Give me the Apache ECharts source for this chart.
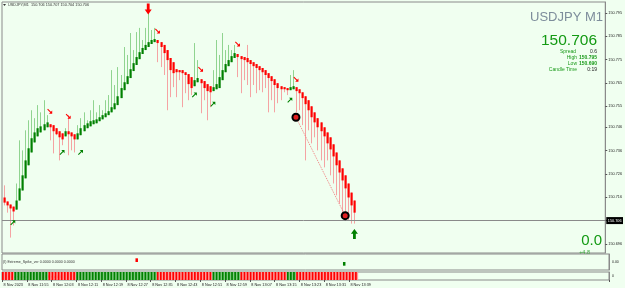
<!DOCTYPE html>
<html><head><meta charset="utf-8">
<script src="https://cdn.jsdelivr.net/npm/echarts@6/dist/echarts.min.js"></script>
<style>html,body{margin:0;padding:0;background:#f0fff0;}#c{width:625px;height:288px;}</style>
</head><body><div id="c"></div>
<script>
// ---- data ----
const opens = [
150.7159,150.7142,150.7129,150.7120,150.7107,150.7146,150.7189,150.7241,150.7297,150.7352,
150.7395,150.7421,150.7438,150.7447,150.7460,150.7473,150.7469,150.7456,150.7443,150.7434,
150.7421,150.7443,150.7438,150.7430,150.7408,150.7426,150.7443,150.7456,150.7464,150.7473,
150.7477,150.7486,150.7494,150.7503,150.7512,150.7524,150.7537,150.7555,150.7585,150.7619,
150.7645,150.7671,150.7701,150.7727,150.7752,150.7774,150.7791,150.7804,150.7817,150.7825,
150.7834,150.7825,150.7813,150.7791,150.7757,150.7739,150.7709,150.7705,150.7705,150.7696,
150.7688,150.7675,150.7636,150.7653,150.7666,150.7658,150.7645,150.7636,150.7615,150.7623,
150.7628,150.7662,150.7696,150.7722,150.7739,150.7757,150.7774,150.7765,150.7761,150.7757,
150.7748,150.7739,150.7731,150.7722,150.7714,150.7705,150.7692,150.7679,150.7666,150.7649,
150.7636,150.7632,150.7628,150.7619,150.7623,150.7632,150.7623,150.7610,150.7593,150.7576,
150.7550,150.7524,150.7499,150.7481,150.7460,150.7438,150.7417,150.7387,150.7352,150.7318,
150.7284,150.7254,150.7219,150.7180,150.7146];
const closes = [
150.7137,150.7125,150.7112,150.7099,150.7146,150.7198,150.7254,150.7318,150.7370,150.7413,
150.7438,150.7456,150.7464,150.7473,150.7481,150.7460,150.7443,150.7430,150.7417,150.7408,
150.7443,150.7430,150.7421,150.7408,150.7434,150.7456,150.7469,150.7477,150.7486,150.7490,
150.7494,150.7503,150.7512,150.7520,150.7529,150.7546,150.7563,150.7593,150.7628,150.7653,
150.7679,150.7709,150.7735,150.7761,150.7782,150.7800,150.7813,150.7825,150.7834,150.7838,
150.7821,150.7804,150.7778,150.7748,150.7705,150.7692,150.7696,150.7696,150.7692,150.7684,
150.7645,150.7628,150.7662,150.7671,150.7649,150.7628,150.7615,150.7610,150.7632,150.7645,
150.7675,150.7705,150.7731,150.7748,150.7765,150.7778,150.7761,150.7752,150.7748,150.7739,
150.7731,150.7722,150.7714,150.7705,150.7696,150.7684,150.7671,150.7658,150.7641,150.7628,
150.7623,150.7623,150.7619,150.7632,150.7636,150.7615,150.7606,150.7585,150.7559,150.7533,
150.7503,150.7481,150.7460,150.7443,150.7421,150.7391,150.7365,150.7335,150.7297,150.7266,
150.7232,150.7198,150.7159,150.7125,150.7094];
const lows = [
150.7125,150.7094,150.6987,150.7039,150.7107,150.7146,150.7189,150.7241,150.7297,150.7352,
150.7395,150.7421,150.7438,150.7447,150.7460,150.7404,150.7348,150.7426,150.7318,150.7383,
150.7421,150.7340,150.7361,150.7352,150.7408,150.7426,150.7443,150.7456,150.7464,150.7473,
150.7477,150.7486,150.7494,150.7503,150.7512,150.7524,150.7537,150.7555,150.7585,150.7619,
150.7645,150.7671,150.7701,150.7727,150.7752,150.7774,150.7791,150.7804,150.7817,150.7825,
150.7739,150.7718,150.7684,150.7533,150.7589,150.7632,150.7589,150.7662,150.7546,150.7606,
150.7576,150.7598,150.7636,150.7653,150.7520,150.7576,150.7490,150.7546,150.7615,150.7623,
150.7628,150.7662,150.7696,150.7722,150.7739,150.7757,150.7675,150.7606,150.7662,150.7641,
150.7589,150.7641,150.7606,150.7619,150.7610,150.7628,150.7524,150.7576,150.7524,150.7563,
150.7576,150.7610,150.7598,150.7619,150.7623,150.7524,150.7533,150.7469,150.7318,150.7447,
150.7391,150.7417,150.7361,150.7318,150.7288,150.7318,150.7254,150.7219,150.7168,150.7133,
150.7090,150.7073,150.7060,150.7047,150.7047];
const highs = [
150.7211,150.7142,150.7129,150.7120,150.7219,150.7404,150.7361,150.7447,150.7490,150.7533,
150.7499,150.7555,150.7524,150.7576,150.7512,150.7473,150.7469,150.7456,150.7443,150.7434,
150.7456,150.7512,150.7438,150.7430,150.7469,150.7499,150.7524,150.7490,150.7533,150.7576,
150.7524,150.7555,150.7533,150.7576,150.7598,150.7705,150.7641,150.7718,150.7684,150.7804,
150.7770,150.7864,150.7791,150.7868,150.7886,150.7834,150.7886,150.7954,150.7877,150.7886,
150.7834,150.7825,150.7813,150.7791,150.7757,150.7739,150.7709,150.7705,150.7705,150.7696,
150.7688,150.7675,150.7821,150.7748,150.7666,150.7658,150.7645,150.7636,150.7705,150.7834,
150.7770,150.7864,150.7791,150.7813,150.7791,150.7813,150.7774,150.7765,150.7761,150.7813,
150.7748,150.7739,150.7731,150.7722,150.7714,150.7705,150.7692,150.7679,150.7666,150.7649,
150.7636,150.7632,150.7628,150.7684,150.7705,150.7632,150.7623,150.7610,150.7593,150.7576,
150.7550,150.7524,150.7499,150.7481,150.7460,150.7438,150.7417,150.7387,150.7352,150.7318,
150.7284,150.7254,150.7219,150.7180,150.7146];
// histogram trend direction per candle (1 up, -1 down)
const histDir = [
-1,-1,-1,-1,1,1,1,1,1,1, 1,1,1,1,1,-1,-1,-1,-1,-1, -1,-1,-1,-1,1,1,1,1,1,1,
1,1,1,1,1,1,1,1,1,1, 1,1,1,1,1,1,1,1,1,1, -1,-1,-1,-1,-1,-1,-1,-1,-1,-1,
-1,-1,-1,-1,-1,-1,-1,-1,1,1, 1,1,1,1,1,1,1,-1,-1,-1, -1,-1,-1,-1,-1,-1,-1,-1,-1,-1,
-1,-1,1,1,1,-1,-1,-1,-1,-1, -1,-1,-1,-1,-1,-1,-1,-1,-1,-1, -1,-1,-1,-1,-1];
const spikeIdx = [43, 110];
const spikeVal = [1.2, -1.2];
const sellArrowsSmall = [[15,150.7529],[21,150.7507],[50,150.7873],[64,150.7709],[76,150.7817],[95,150.7666]];
const buyArrowsSmall = [[3,150.7051],[19,150.7352],[25,150.7352],[62,150.7598],[68,150.7559],[93,150.7576]];
const sellArrowBig = [[47,150.7967]];
const buyArrowBig = [[114,150.7002]];
const circles = [[95,150.7503],[111,150.7081]];
const currentPrice = 150.706;
const yTicks = [150.696,150.706,150.716,150.726,150.736,150.746,150.755,150.765,150.775,150.785,150.795];
const timeLabels = ['8 Nov 2023','8 Nov 11:55','8 Nov 12:03','8 Nov 12:11','8 Nov 12:19','8 Nov 12:27','8 Nov 12:35','8 Nov 12:43','8 Nov 12:51','8 Nov 12:59','8 Nov 13:07','8 Nov 13:15','8 Nov 13:23','8 Nov 13:31','8 Nov 13:39'];
const labelEvery = 8;
const slotCount = 196;

// ---- chart ----
const FONT = 'Liberation Sans';
const GREEN = '#008000', RED = '#ff0000', LGREEN = '#90d490', LRED = '#f5a3a3';
const cats = Array.from({length: slotCount}, (_, i) => i);
const candleData = opens.map((o, i) => [i, o, closes[i], lows[i], highs[i]]);

function renderCandle(params, api) {
  const i = api.value(0), o = api.value(1), c = api.value(2), l = api.value(3), h = api.value(4);
  const up = c >= o;
  const pO = api.coord([i, o]), pC = api.coord([i, c]), pL = api.coord([i, l]), pH = api.coord([i, h]);
  const x = Math.round(pO[0]);
  const top = Math.min(pO[1], pC[1]);
  const hgt = Math.max(1, Math.abs(pO[1] - pC[1]));
  return {type: 'group', children: [
    {type: 'line', shape: {x1: x + 0.5, y1: pH[1], x2: x + 0.5, y2: pL[1]}, style: {stroke: up ? LGREEN : LRED, lineWidth: 1}},
    {type: 'rect', shape: {x: x - 0.5, y: top, width: 2.2, height: hgt}, style: {fill: up ? GREEN : RED}}
  ]};
}
function renderHist(params, api) {
  const i = api.value(0), d = api.value(1);
  const p0 = api.coord([i, 0]), p1 = api.coord([i, 1]);
  const w = api.size([1, 0])[0];
  const x = p0[0] - w / 2;
  return {type: 'group', children: [
    {type: 'rect', shape: {x: x, y: p1[1], width: w, height: p0[1] - p1[1]}, style: {fill: d > 0 ? '#7fc97f' : '#ff9a9a'}},
    {type: 'rect', shape: {x: x, y: p1[1], width: w * 0.55, height: p0[1] - p1[1]}, style: {fill: d > 0 ? GREEN : RED}}
  ]};
}
const downArrow = 'path://M3,0 L7,0 L7,6 L10,6 L5,11 L0,6 L3,6 Z';
const upArrow = 'path://M3,11 L7,11 L7,5 L10,5 L5,0 L0,5 L3,5 Z';
const seArrow = 'path://M0,1.5 L1.5,0 L7.5,6 L10,3.5 L10,10 L3.5,10 L6,7.5 Z';
const neArrow = 'path://M0,8.5 L1.5,10 L7.5,4 L10,6.5 L10,0 L3.5,0 L6,2.5 Z';

const chart = echarts.init(document.getElementById('c'), null, {renderer: 'canvas'});
const axisLbl = {fontSize: 3.8, color: '#222', fontFamily: FONT};
const tickShow = (idx) => idx % labelEvery === 0 && idx / labelEvery < timeLabels.length;
chart.setOption({
  backgroundColor: '#f0fff0',
  animation: false,
  grid: [
    {left: 2, top: 2, width: 607, height: 251, show: true, borderColor: '#8a8a8a', borderWidth: 1, backgroundColor: '#f0fff0'},
    {left: 2, top: 254, width: 607, height: 16, show: true, borderColor: '#8a8a8a', borderWidth: 1, backgroundColor: '#f0fff0'},
    {left: 2, top: 272, width: 607, height: 8, show: true, borderColor: '#8a8a8a', borderWidth: 1, backgroundColor: '#f0fff0'}
  ],
  xAxis: [
    {type: 'category', gridIndex: 0, data: cats, boundaryGap: true, axisLine: {show: false}, axisTick: {show: false}, axisLabel: {show: false}, splitLine: {show: false}},
    {type: 'category', gridIndex: 1, data: cats, boundaryGap: true, axisLine: {show: false}, axisTick: {show: false}, axisLabel: {show: false}},
    {type: 'category', gridIndex: 2, data: cats, boundaryGap: true, axisLine: {show: false},
     axisTick: {show: true, length: 2, lineStyle: {color: '#555'}, interval: tickShow},
     axisLabel: {show: true, ...axisLbl, align: 'left', margin: 2.5, interval: tickShow, hideOverlap: false,
       formatter: (v, idx) => timeLabels[idx / labelEvery] || ''}}
  ],
  yAxis: [
    {type: 'value', gridIndex: 0, position: 'right', min: 150.6921, max: 150.7997, scale: true,
     axisLine: {show: true, lineStyle: {color: '#8a8a8a'}}, splitLine: {show: false},
     axisTick: {show: true, length: 2, customValues: yTicks, lineStyle: {color: '#555'}},
     axisLabel: {...axisLbl, margin: 3, customValues: yTicks, formatter: (v) => v.toFixed(3)}},
    {type: 'value', gridIndex: 1, position: 'right', min: -2.6, max: 2.6,
     axisLine: {show: true, lineStyle: {color: '#8a8a8a'}}, splitLine: {show: false},
     axisTick: {show: false}, axisLabel: {...axisLbl, fontSize: 3.5, margin: 3, customValues: [-1.2, 0, 1.2], formatter: (v) => v === 0 ? '0.00' : String(v)}},
    {type: 'value', gridIndex: 2, position: 'right', min: 0, max: 1,
     axisLine: {show: true, lineStyle: {color: '#8a8a8a'}}, splitLine: {show: false},
     axisTick: {show: false}, axisLabel: {...axisLbl, fontSize: 3.5, margin: 3, customValues: [0.5], formatter: () => '0'}}
  ],
  series: [
    {type: 'custom', xAxisIndex: 0, yAxisIndex: 0, renderItem: renderCandle, data: candleData, encode: {x: 0, y: [1, 2, 3, 4]}, z: 3},
    {type: 'line', xAxisIndex: 0, yAxisIndex: 0, data: circles, symbol: 'none', lineStyle: {color: '#f08080', type: 'dotted', width: 1}, z: 4,
     markLine: {silent: true, symbol: 'none', animation: false, precision: 5, lineStyle: {color: '#8a8a8a', type: 'solid', width: 1},
       label: {position: 'end', formatter: () => currentPrice.toFixed(3), backgroundColor: '#000', color: '#fff', fontSize: 3.8, fontFamily: FONT, padding: [1.5, 1.5], distance: 1},
       data: [{yAxis: currentPrice}]}},
    {type: 'scatter', xAxisIndex: 0, yAxisIndex: 0, data: circles, symbol: 'circle', symbolSize: 7, itemStyle: {color: '#e02020', borderColor: '#000', borderWidth: 2, opacity: 1}, z: 6},
    {type: 'scatter', xAxisIndex: 0, yAxisIndex: 0, data: sellArrowsSmall, symbol: seArrow, symbolSize: 5, itemStyle: {color: RED, opacity: 1}, z: 5},
    {type: 'scatter', xAxisIndex: 0, yAxisIndex: 0, data: buyArrowsSmall, symbol: neArrow, symbolSize: 5, itemStyle: {color: GREEN, opacity: 1}, z: 5},
    {type: 'scatter', xAxisIndex: 0, yAxisIndex: 0, data: sellArrowBig, symbol: downArrow, symbolSize: [7, 11], itemStyle: {color: RED, opacity: 1}, z: 5},
    {type: 'scatter', xAxisIndex: 0, yAxisIndex: 0, data: buyArrowBig, symbol: upArrow, symbolSize: [7, 10], itemStyle: {color: GREEN, opacity: 1}, z: 5},
    {type: 'bar', xAxisIndex: 1, yAxisIndex: 1, barWidth: 2.5,
     data: cats.map((i) => { const k = spikeIdx.indexOf(i); return k < 0 ? null : {value: spikeVal[k], itemStyle: {color: spikeVal[k] > 0 ? RED : GREEN}}; })},
    {type: 'custom', xAxisIndex: 2, yAxisIndex: 2, renderItem: renderHist, data: histDir.map((d, i) => [i, d]), encode: {x: 0, y: 1}}
  ],
  graphic: [
    {type: 'text', x: 8, y: 3, style: {text: 'USDJPY,M1  150.706 150.707 150.704 150.706', font: '3.8px ' + FONT, fill: '#333'}},
    {type: 'polygon', shape: {points: [[3, 4], [6, 4], [4.5, 6]]}, style: {fill: '#333'}},
    {type: 'text', x: 603, y: 11, style: {text: 'USDJPY M1', font: '13px ' + FONT, fill: '#7d8d9b', textAlign: 'right'}},
    {type: 'text', x: 597, y: 33, style: {text: '150.706', font: '15.5px ' + FONT, fill: '#139a13', textAlign: 'right'}},
    {type: 'text', x: 576, y: 49, style: {text: 'Spread', font: '5px ' + FONT, fill: '#1a9a1a', textAlign: 'right'}},
    {type: 'text', x: 597, y: 49, style: {text: '0.6', font: '5px ' + FONT, fill: '#222', textAlign: 'right'}},
    {type: 'text', x: 577, y: 55, style: {text: 'High', font: '5px ' + FONT, fill: '#1a9a1a', textAlign: 'right'}},
    {type: 'text', x: 597, y: 55, style: {text: '150.795', font: 'bold 5px ' + FONT, fill: '#1a9a1a', textAlign: 'right'}},
    {type: 'text', x: 577, y: 61, style: {text: 'Low', font: '5px ' + FONT, fill: '#1a9a1a', textAlign: 'right'}},
    {type: 'text', x: 597, y: 61, style: {text: '150.690', font: 'bold 5px ' + FONT, fill: '#1a9a1a', textAlign: 'right'}},
    {type: 'text', x: 577, y: 67, style: {text: 'Candle Time', font: '5px ' + FONT, fill: '#1a9a1a', textAlign: 'right'}},
    {type: 'text', x: 597, y: 67, style: {text: '0:19', font: '5px ' + FONT, fill: '#222', textAlign: 'right'}},
    {type: 'text', x: 602, y: 233, style: {text: '0.0', font: '15px ' + FONT, fill: '#139a13', textAlign: 'right'}},
    {type: 'text', x: 590, y: 249, style: {text: '+4.8', font: '5.5px ' + FONT, fill: '#3aa83a', textAlign: 'right'}},
    {type: 'text', x: 3, y: 260, style: {text: '(I) Extreme_Spike_ver 0.0000 0.0000 0.0000', font: '3.6px ' + FONT, fill: '#333'}},
    {type: 'text', x: 3, y: 274.5, style: {text: '(I) Heiken_Ashi_Smoothed_Histo 0.0000 1.0000', font: '3.6px ' + FONT, fill: '#d00000'}}
  ]
});
</script></body></html>
